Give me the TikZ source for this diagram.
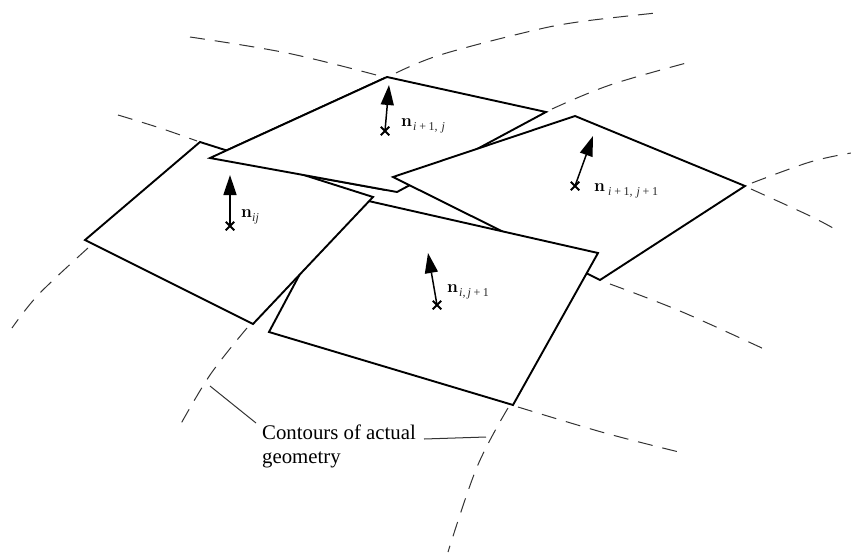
\documentclass[tikz,border=0pt]{standalone}
\usepackage{fontspec}
\newfontfamily\capfont{Liberation Serif}
\usetikzlibrary{arrows.meta,shapes.misc}
\tikzset{
  patch/.style={draw=black,fill=white,line width=1.9pt,line join=miter,miter limit=10},
  contour/.style={draw=black!80,line width=1pt,dash pattern=on 15pt off 10pt},
  leader/.style={draw=black!80,line width=1pt},
  normalarrow/.style={draw=black,line width=1.5pt,-{Triangle[length=20pt,width=13pt]}},
  basecross/.style={cross out,draw=black,line width=1.9pt,minimum size=8.5pt,inner sep=0pt,outer sep=0pt},
  nlabel/.style={anchor=base west,inner sep=0pt,font=\fontsize{17.5}{20}\selectfont\bfseries},
  sublabel/.style={anchor=base west,inner sep=0pt,text=black!85,font=\fontsize{12}{14}\selectfont\capfont\itshape},
  caption/.style={anchor=base west,inner sep=0pt,font=\fontsize{20.8}{24}\selectfont\capfont},
}
\newcommand{\one}{{\upshape 1}}
\begin{document}
\begin{tikzpicture}[x=1pt,y=-1pt]
\useasboundingbox (0,0) rectangle (851,552);
% corners
\coordinate (A1) at (85,240); \coordinate (A2) at (200,142); \coordinate (A3) at (373,197); \coordinate (A4) at (253,324);
\coordinate (B1) at (210,158); \coordinate (B2) at (387,77); \coordinate (B3) at (546,112); \coordinate (B4) at (397,192);
\coordinate (C1) at (393,177); \coordinate (C2) at (575,116); \coordinate (C3) at (745,186); \coordinate (C4) at (600,280);
\coordinate (D1) at (342,195); \coordinate (D2) at (598,253); \coordinate (D3) at (513,405); \coordinate (D4) at (269,332);
% contours
\draw[contour] plot[smooth,tension=0.6] coordinates {(190,37) (287,53) (380,76)};
\draw[contour] plot[smooth,tension=0.6] coordinates {(396,73) (440,55) (527,32) (578,22) (656,13)};
\draw[contour] plot[smooth,tension=0.6] coordinates {(552,109) (610,85) (690,62)};
\draw[contour] plot[smooth,tension=0.6] coordinates {(752,183) (810,162) (851,153)};
\draw[contour] plot[smooth,tension=0.6] coordinates {(751,189) (808,215) (833,228)};
\draw[contour] plot[smooth,tension=0.6] coordinates {(118,115) (160,128) (197,141)};
\draw[contour] plot[smooth,tension=0.6] coordinates {(88,248) (39,294) (12,328)};
\draw[contour] plot[smooth,tension=0.6] coordinates {(247,328) (210,375) (178,429)};
\draw[contour] plot[smooth,tension=0.6] coordinates {(610,284) (680,311) (764,349)};
\draw[contour] plot[smooth,tension=0.6] coordinates {(518,407) (605,433) (683,453)};
\draw[contour] plot[smooth,tension=0.6] coordinates {(508,408) (477,467) (448,552)};
% patches (cyclic overlap)
\path[patch] (B1) -- (B2) -- (B3) -- (B4) -- cycle;
\path[patch] (C1) -- (C2) -- (C3) -- (C4) -- cycle;
\path[patch] (D1) -- (D2) -- (D3) -- (D4) -- cycle;
\path[patch] (A1) -- (A2) -- (A3) -- (A4) -- cycle;
\begin{scope}
  \clip (195,60) rectangle (385,190);
  \path[patch] (B1) -- (B2) -- (B3) -- (B4) -- cycle;
\end{scope}
% normals
\node[basecross] (b1) at (230,226) {}; \coordinate (t1) at (230,175);
\node[basecross] (b2) at (385,131) {}; \coordinate (t2) at (389,85);
\node[basecross] (b3) at (575,186) {}; \coordinate (t3) at (593,136);
\node[basecross] (b4) at (437,305) {}; \coordinate (t4) at (428,253);
\draw[normalarrow] (b1.center) -- (t1);
\draw[normalarrow] (b2.center) -- (t2);
\draw[normalarrow] (b3.center) -- (t3);
\draw[normalarrow] (b4.center) -- (t4);
% labels
\node[nlabel] (n1) at (241,217) {n};
\node[sublabel] (s1) at (252,221) {ij};
\node[nlabel] (n2) at (401,126) {n};
\node[sublabel] (s2) at (413,130) {i\,+\,\one,\,\,j};
\node[nlabel] (n3) at (594,191) {n};
\node[sublabel] (s3) at (608,195) {i\,+\,\one,\,\,j\,+\,\one};
\node[nlabel] (n4) at (447,292) {n};
\node[sublabel] (s4) at (459,296) {i,\,j\,+\,\one};
% caption
\node[caption] (c1) at (262,439) {Contours of actual};
\node[caption] (c2) at (262,463) {geometry};
\coordinate (l1) at (210,386); \coordinate (l1e) at (256,423);
\coordinate (l2) at (486,437); \coordinate (l2e) at (424,439);
\draw[leader] (l1) -- (l1e);
\draw[leader] (l2e) -- (l2);
\end{tikzpicture}
\end{document}
